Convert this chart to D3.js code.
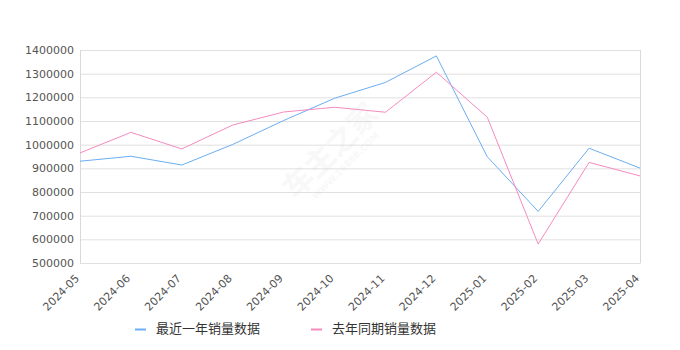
<!DOCTYPE html>
<html><head><meta charset="utf-8">
<script src="https://cdn.jsdelivr.net/npm/d3@7"></script>
<style>body{margin:0;background:#fff}svg{display:block}</style>
</head><body><svg id="c" width="680" height="350"></svg>
<script>
const months = ["2024-05","2024-06","2024-07","2024-08","2024-09","2024-10","2024-11","2024-12","2025-01","2025-02","2025-03","2025-04"];
const recent = [930000,951000,914000,1001000,1102000,1196000,1263000,1375000,949000,718000,985000,901000];
const lastYear = [965000,1052000,982000,1083000,1138000,1158000,1137000,1306000,1116000,580000,925000,868000];
const yTicks = [500000,600000,700000,800000,900000,1000000,1100000,1200000,1300000,1400000];
const seriesNames = ["最近一年销量数据","去年同期销量数据"];
const colors = ["#6aaef3","#f58bbf"];

const svg = d3.select("#c");
const L=80, R=640, T=50, B=263;
const x = d3.scalePoint().domain(months).range([L,R]);
const y = d3.scaleLinear().domain([500000,1400000]).range([B,T]);
const font = "DejaVu Sans, sans-serif";

// grid
svg.append("g").selectAll("line").data(yTicks).join("line")
  .attr("x1",L).attr("x2",R).attr("y1",d=>y(d)+0.5).attr("y2",d=>y(d)+0.5)
  .attr("stroke","#e0e0e0").attr("stroke-width",1);
svg.append("line").attr("x1",L+0.5).attr("x2",L+0.5).attr("y1",T).attr("y2",B+0.5).attr("stroke","#d9d9d9");
svg.append("line").attr("x1",R+0.5).attr("x2",R+0.5).attr("y1",T).attr("y2",B+0.5).attr("stroke","#d9d9d9");

// watermark
const wm = svg.append("g").attr("transform","translate(338,158) rotate(-45)").attr("opacity",0.12);
wm.append("text").attr("text-anchor","middle").attr("font-family","Noto Sans CJK SC").attr("font-weight","bold").attr("font-size",30).attr("fill","#c8c8c8").attr("y",0).text("车主之家");
wm.append("text").attr("text-anchor","middle").attr("font-family",font).attr("font-weight","bold").attr("font-size",9).attr("fill","#c8c8c8").attr("y",14).text("WWW.16888.COM");

// y axis labels
svg.append("g").selectAll("text").data(yTicks).join("text")
  .attr("x",74).attr("y",d=>y(d)+4).attr("text-anchor","end")
  .attr("font-family",font).attr("font-size",11).attr("fill","#555").text(d=>d);

// x labels
svg.append("g").selectAll("text").data(months).join("text")
  .attr("transform",d=>`translate(${x(d)},${B+16}) rotate(-45)`)
  .attr("text-anchor","end").attr("font-family",font).attr("font-size",11).attr("fill","#555").text(d=>d);

// lines
const line = d3.line().x((d,i)=>x(months[i])).y(d=>y(d));
[recent,lastYear].forEach((s,i)=>{
  svg.append("path").attr("d",line(s)).attr("fill","none").attr("stroke",colors[i]).attr("stroke-width",1);
});

// legend
const lx=[135,311];
seriesNames.forEach((n,i)=>{
  svg.append("line").attr("x1",lx[i]).attr("x2",lx[i]+11).attr("y1",329.5).attr("y2",329.5).attr("stroke",colors[i]).attr("stroke-width",2);
  svg.append("text").attr("x",lx[i]+21).attr("y",333).attr("font-family","Noto Sans CJK SC").attr("font-size",13).attr("fill","#333").text(n);
});
</script></body></html>
